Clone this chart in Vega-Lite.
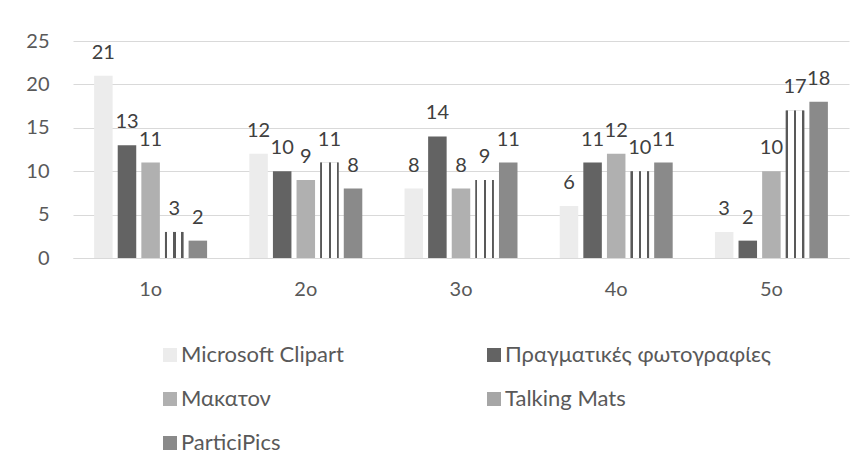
{
  "$schema": "https://vega.github.io/schema/vega-lite/v6.json",
  "autosize": "none",
  "width": 776,
  "height": 217,
  "padding": {"left": 73, "top": 41, "right": 19, "bottom": 203},
  "background": "white",
  "config": {"font": "Lato", "view": {"stroke": null}},
  "data": {
    "values": [
      {"pos": "1ο", "series": "Microsoft Clipart", "value": 21},
      {"pos": "1ο", "series": "Πραγματικές φωτογραφίες", "value": 13},
      {"pos": "1ο", "series": "Μακατον", "value": 11},
      {"pos": "1ο", "series": "Talking Mats", "value": 3},
      {"pos": "1ο", "series": "ParticiPics", "value": 2},
      {"pos": "2ο", "series": "Microsoft Clipart", "value": 12},
      {"pos": "2ο", "series": "Πραγματικές φωτογραφίες", "value": 10},
      {"pos": "2ο", "series": "Μακατον", "value": 9},
      {"pos": "2ο", "series": "Talking Mats", "value": 11},
      {"pos": "2ο", "series": "ParticiPics", "value": 8},
      {"pos": "3ο", "series": "Microsoft Clipart", "value": 8},
      {"pos": "3ο", "series": "Πραγματικές φωτογραφίες", "value": 14},
      {"pos": "3ο", "series": "Μακατον", "value": 8},
      {"pos": "3ο", "series": "Talking Mats", "value": 9},
      {"pos": "3ο", "series": "ParticiPics", "value": 11},
      {"pos": "4ο", "series": "Microsoft Clipart", "value": 6},
      {"pos": "4ο", "series": "Πραγματικές φωτογραφίες", "value": 11},
      {"pos": "4ο", "series": "Μακατον", "value": 12},
      {"pos": "4ο", "series": "Talking Mats", "value": 10},
      {"pos": "4ο", "series": "ParticiPics", "value": 11},
      {"pos": "5ο", "series": "Microsoft Clipart", "value": 3},
      {"pos": "5ο", "series": "Πραγματικές φωτογραφίες", "value": 2},
      {"pos": "5ο", "series": "Μακατον", "value": 10},
      {"pos": "5ο", "series": "Talking Mats", "value": 17},
      {"pos": "5ο", "series": "ParticiPics", "value": 18}
    ]
  },
  "encoding": {
    "x": {
      "field": "pos",
      "type": "nominal",
      "scale": {"paddingInner": 0.272, "paddingOuter": 0.136},
      "axis": {
        "title": null,
        "labelAngle": 0,
        "ticks": false,
        "domain": true,
        "domainColor": "#d9d9d9",
        "domainWidth": 1.2,
        "labelPadding": 21,
        "labelFontSize": 20,
        "labelColor": "#595959"
      }
    },
    "xOffset": {
      "field": "series",
      "type": "nominal",
      "scale": {
        "domain": ["Microsoft Clipart", "Πραγματικές φωτογραφίες", "Μακατον", "Talking Mats", "ParticiPics"],
        "paddingInner": 0.216,
        "paddingOuter": 0
      }
    },
    "y": {
      "field": "value",
      "type": "quantitative",
      "scale": {"domain": [0, 25], "nice": false},
      "axis": {
        "title": null,
        "values": [0, 5, 10, 15, 20, 25],
        "grid": true,
        "gridColor": "#d9d9d9",
        "gridWidth": 1.2,
        "domain": false,
        "ticks": false,
        "labelPadding": 24,
        "labelFontSize": 20,
        "labelColor": "#595959"
      }
    }
  },
  "layer": [
    {
      "mark": {"type": "bar"},
      "encoding": {
        "fill": {
          "field": "series",
          "type": "nominal",
          "scale": {
            "domain": ["Microsoft Clipart", "Πραγματικές φωτογραφίες", "Μακατον", "Talking Mats", "ParticiPics"],
            "range": ["#ececec", "#636363", "#b0b0b0", "#a6a6a6", "#8a8a8a"]
          },
          "legend": {
            "title": null,
            "orient": "none",
            "direction": "horizontal",
            "legendX": 86,
            "legendY": 303,
            "columns": 2,
            "columnPadding": 139,
            "rowPadding": 22,
            "symbolType": "square",
            "symbolSize": 196,
            "symbolStrokeWidth": 0,
            "labelOffset": 0,
            "labelFontSize": 22,
            "labelColor": "#595959",
            "labelLimit": 400
          }
        }
      }
    },
    {
      "transform": [{"filter": "datum.series === 'Talking Mats'"}],
      "mark": {
        "type": "bar",
        "color": {
          "gradient": "linear",
          "x1": 0, "y1": 0, "x2": 1, "y2": 0,
          "stops": [
            {"offset": 0, "color": "#595959"},
            {"offset": 0.11, "color": "#595959"},
            {"offset": 0.11, "color": "#ffffff"},
            {"offset": 0.46, "color": "#ffffff"},
            {"offset": 0.46, "color": "#595959"},
            {"offset": 0.57, "color": "#595959"},
            {"offset": 0.57, "color": "#ffffff"},
            {"offset": 0.89, "color": "#ffffff"},
            {"offset": 0.89, "color": "#595959"},
            {"offset": 1, "color": "#595959"}
          ]
        }
      },
      "encoding": {}
    },
    {
      "mark": {"type": "text", "dy": -17, "baseline": "alphabetic", "fontSize": 20, "color": "#404040"},
      "encoding": {"text": {"field": "value", "type": "quantitative"}}
    }
  ]
}
